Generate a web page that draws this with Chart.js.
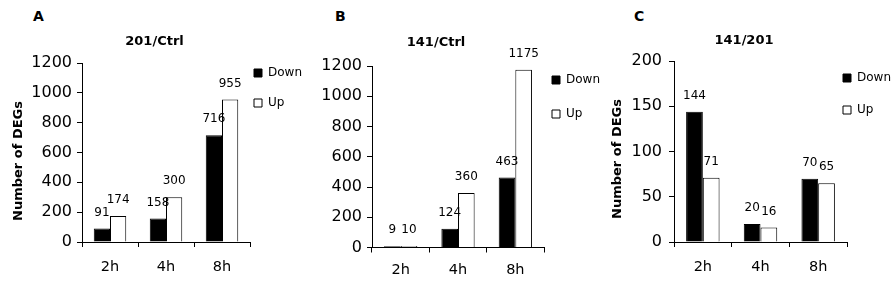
<!DOCTYPE html>
<html><head><meta charset="utf-8">
<script src="https://cdn.jsdelivr.net/npm/chart.js@4.4.1/dist/chart.umd.min.js"></script>
<style>
html,body{margin:0;padding:0;background:#fff;width:893px;height:282px;overflow:hidden;position:relative}
canvas{position:absolute;top:0}
.panel{position:absolute;font:bold 14px "DejaVu Sans";color:#000;line-height:1}
</style></head><body>
<div class="panel" style="left:33px;top:9px">A</div>
<div class="panel" style="left:335px;top:9px">B</div>
<div class="panel" style="left:634px;top:9px">C</div>
<canvas id="cA" width="310" height="282" style="left:0px"></canvas>
<canvas id="cB" width="310" height="282" style="left:300px"></canvas>
<canvas id="cC" width="300" height="282" style="left:593px"></canvas>
<script>
// ---- data ----
const categories = ['2h', '4h', '8h'];
const seriesNames = ['Down', 'Up'];
const titleA = '201/Ctrl';
const titleB = '141/Ctrl';
const titleC = '141/201';
const yAxisTitle = 'Number of DEGs';
const downA = [91, 158, 716];
const upA = [174, 300, 955];
const downB = [9, 124, 463];
const upB = [10, 360, 1175];
const downC = [144, 20, 70];
const upC = [71, 16, 65];
const yTicksAB = [0, 200, 400, 600, 800, 1000, 1200];
const yTicksC = [0, 50, 100, 150, 200];

// ---- styling / layout ----
Chart.defaults.font.family = '"DejaVu Sans"';
Chart.defaults.color = '#000';
const LEGEND_FONT = 12;

const valueLabels = {
  id: 'valueLabels',
  afterDatasetsDraw(chart, args, opts) {
    const ctx = chart.ctx;
    ctx.save();
    ctx.font = opts.font;
    ctx.fillStyle = '#000';
    ctx.textAlign = 'center';
    ctx.textBaseline = 'middle';
    chart.data.datasets.forEach((ds, i) => {
      chart.getDatasetMeta(i).data.forEach((el, j) => {
        ctx.fillText(String(ds.data[j]), el.x, el.y - opts.offset);
      });
    });
    ctx.restore();
  }
};

const placeBoxes = {
  id: 'placeBoxes',
  afterLayout(chart, args, opts) {
    const lg = chart.legend;
    if (lg) {
      lg.left = opts.boxX - opts.padding;
      lg.right = lg.left + 120;
      lg.width = 120;
      lg.top = opts.textY - opts.fontSize / 2 - opts.padding;
    }
    const t = chart.titleBlock;
    if (t) {
      t.left = opts.titleX - 100;
      t.right = opts.titleX + 100;
      t.width = 200;
    }
    const y = chart.scales.y;
    if (y && !y._shifted) {
      const dy = opts.yTitleDy || 0;
      const orig = Object.getPrototypeOf(y).drawTitle;
      y.drawTitle = function () {
        const t0 = this.top, b0 = this.bottom;
        this.top += dy; this.bottom += dy;
        orig.call(this);
        this.top = t0; this.bottom = b0;
      };
      y._shifted = true;
    }
  }
};

function makeChart(id, down, up, ticks, p) {
  const ctx = document.getElementById(id);
  return new Chart(ctx, {
    type: 'bar',
    data: {
      labels: categories,
      datasets: [
        { label: seriesNames[0], data: down, backgroundColor: '#000', borderColor: '#000', borderWidth: 1,
          categoryPercentage: 0.58, barPercentage: 1.0 },
        { label: seriesNames[1], data: up, backgroundColor: '#fff', borderColor: '#000', borderWidth: 1,
          categoryPercentage: 0.58, barPercentage: 1.0 }
      ]
    },
    options: {
      responsive: false,
      animation: false,
      devicePixelRatio: 1,
      layout: { padding: p.pad },
      plugins: {
        title: { display: true, text: p.title, font: { size: 13, weight: 'bold' }, color: '#000',
                 padding: p.titlePad },
        legend: {
          display: true, position: 'chartArea', align: 'start',
          labels: { boxWidth: 8, boxHeight: 8, padding: p.legendPad, font: { size: LEGEND_FONT }, color: '#000' }
        },
        tooltip: { enabled: false },
        placeBoxes: { boxX: p.legendX, textY: p.legendY, padding: p.legendPad, fontSize: LEGEND_FONT,
                      titleX: p.titleX, yTitleDy: p.yTitleDy },
        valueLabels: { font: '12px "DejaVu Sans"', offset: 16 }
      },
      scales: {
        x: {
          grid: { drawOnChartArea: false, drawTicks: true, tickLength: 5, color: '#000', offset: true },
          border: { display: true, color: '#000', width: 1 },
          ticks: { font: { size: 14.5 }, color: '#000', padding: p.xTickPad, maxRotation: 0 },
          afterFit(s) { s.height = p.xH; }
        },
        y: {
          min: 0, max: ticks[ticks.length - 1],
          afterBuildTicks(s) { s.ticks = ticks.map(v => ({ value: v })); },
          grid: { drawOnChartArea: false, drawTicks: true, tickLength: 5, color: '#000' },
          border: { display: true, color: '#000', width: 1 },
          ticks: { font: { size: 16 }, color: '#000', padding: p.yTickPad, callback: v => String(v) },
          title: { display: !!p.yTitle, text: p.yTitle || '', font: { size: 13, weight: 'bold' }, color: '#000',
                   padding: { top: p.yTitlePad, bottom: 0 } },
          afterFit(s) { s.width = p.yW; }
        }
      }
    },
    plugins: [valueLabels, placeBoxes]
  });
}

makeChart('cA', downA, upA, yTicksAB, {
  title: titleA, yTitle: yAxisTitle, titleX: 154.5,
  pad: { left: 8, right: 60, top: 0, bottom: 0 }, yW: 74, xH: 40,
  titlePad: { top: 34, bottom: 13.4 }, legendX: 254, legendY: 73, legendPad: 18,
  yTitlePad: 2.5, yTitleDy: 8.5, yTickPad: 5, xTickPad: 12
});
makeChart('cB', downB, upB, yTicksAB, {
  title: titleB, yTitle: null, titleX: 136,
  pad: { left: 0, right: 66, top: 0, bottom: 0 }, yW: 72, xH: 34.5,
  titlePad: { top: 35, bottom: 15.4 }, legendX: 252, legendY: 80, legendPad: 22,
  yTitlePad: 0, yTitleDy: 0, yTickPad: 5, xTickPad: 9.5
});
makeChart('cC', downC, upC, yTicksC, {
  title: titleC, yTitle: yAxisTitle, titleX: 151,
  pad: { left: 2, right: 46, top: 0, bottom: 0 }, yW: 79, xH: 40,
  titlePad: { top: 33, bottom: 12.4 }, legendX: 250, legendY: 78, legendPad: 20,
  yTitlePad: 15, yTitleDy: 7.5, yTickPad: 7, xTickPad: 12
});
</script>
</body></html>
